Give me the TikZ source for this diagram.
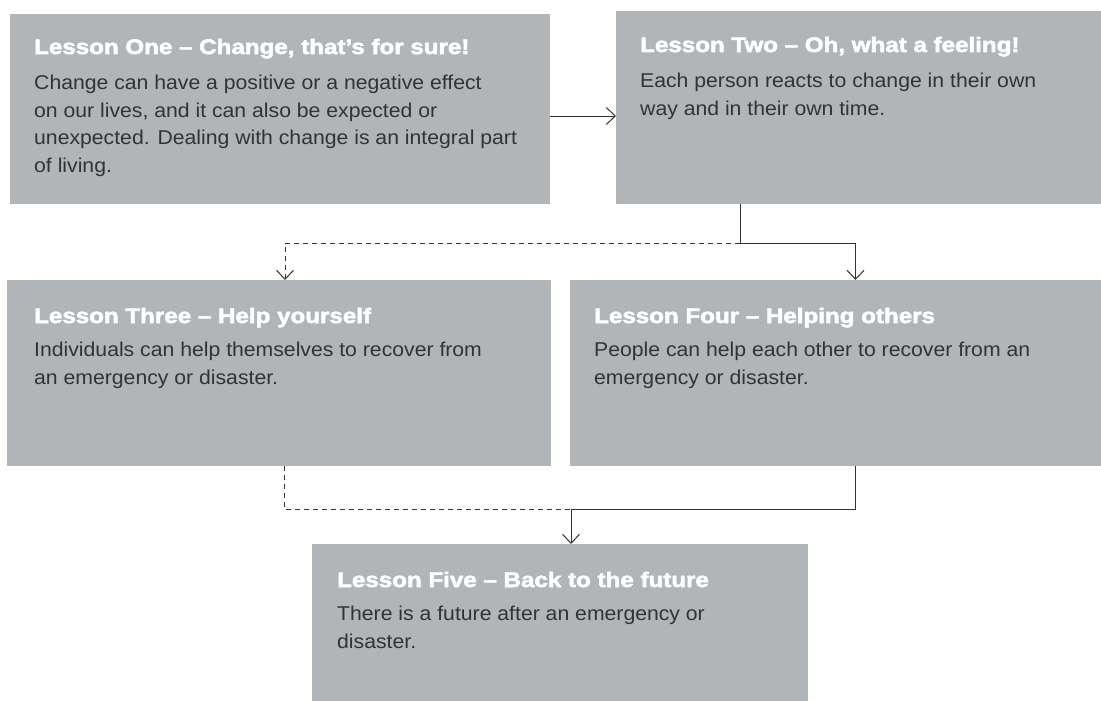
\documentclass[tikz,border=0pt]{standalone}
\usepackage{fontspec}
\setmainfont{Liberation Sans}
\newfontfamily\lessonhead[FakeStretch=1.15,FakeBold=2.5]{Liberation Sans Bold}
\newfontfamily\lessonbody[FakeStretch=1.06]{Liberation Sans}
\usetikzlibrary{arrows.meta,positioning}
\definecolor{boxgray}{HTML}{B1B5B8}
\definecolor{inkgray}{HTML}{333333}

\tikzset{
  lesson/.style   = {shape=rectangle, fill=boxgray, inner sep=0pt,
                     outer sep=0pt, anchor=north west},
  headline/.style = {font=\lessonhead\fontsize{21}{24}\selectfont,
                     text=white, inner sep=0pt, anchor=base west},
  blurb/.style    = {font=\lessonbody\fontsize{20}{27.5}\selectfont,
                     text=inkgray, align=left, inner sep=0pt,
                     anchor=north west},
  flow/.style     = {draw=inkgray, line width=1pt,
                     -{Straight Barb[length=9pt,width=17pt]}},
  maybe/.style    = {flow, dash pattern=on 5pt off 4pt}
}

\begin{document}
\begin{tikzpicture}[x=1pt, y=-1pt]
  \useasboundingbox (0,0) rectangle (1101,701);

  % the five lessons
  \node [lesson, minimum width=540pt, minimum height=190pt] (one)   at (10,14)  {};
  \node [lesson, minimum width=485pt, minimum height=193pt] (two)   at (616,11) {};
  \node [lesson, minimum width=544pt, minimum height=186pt] (three) at (7,280)  {};
  \node [lesson, minimum width=531pt, minimum height=186pt] (four)  at (570,280) {};
  \node [lesson, minimum width=496pt, minimum height=157pt] (five)  at (312,544) {};

  \node [headline] (onehead) at ([xshift=24pt,yshift=-40pt]one.north west)
    {Lesson One – Change, that’s for sure!};
  \node [blurb] (onetext) at ([xshift=24pt,yshift=-61pt]one.north west)
    {Change can have a positive or a negative effect\\
     on our lives, and it can also be expected or\\
     unexpected. Dealing with change is an integral part\\
     of living.};

  \node [headline] (twohead) at ([xshift=24pt,yshift=-41pt]two.north west)
    {Lesson Two – Oh, what a feeling!};
  \node [blurb] (twotext) at ([xshift=24pt,yshift=-62pt]two.north west)
    {Each person reacts to change in their own\\
     way and in their own time.};

  \node [headline] (threehead) at ([xshift=27pt,yshift=-43pt]three.north west)
    {Lesson Three – Help yourself};
  \node [blurb] (threetext) at ([xshift=27pt,yshift=-62pt]three.north west)
    {Individuals can help themselves to recover from\\
     an emergency or disaster.};

  \node [headline] (fourhead) at ([xshift=24pt,yshift=-43pt]four.north west)
    {Lesson Four – Helping others};
  \node [blurb] (fourtext) at ([xshift=24pt,yshift=-62pt]four.north west)
    {People can help each other to recover from an\\
     emergency or disaster.};

  \node [headline] (fivehead) at ([xshift=25pt,yshift=-43pt]five.north west)
    {Lesson Five – Back to the future};
  \node [blurb] (fivetext) at ([xshift=25pt,yshift=-62pt]five.north west)
    {There is a future after an emergency or\\
     disaster.};

  % connectors
  \coordinate (onetwo) at ([yshift=-7pt]one.east);
  \coordinate (split)  at (740,243);
  \coordinate (merge)  at (571,509);

  \draw [flow] (onetwo) -- (onetwo -| two.west);
  \draw [flow] (split |- two.south) -- (split) -| ([xshift=20pt]four.north);
  \draw [maybe] (split) -| ([xshift=6pt]three.north);
  \draw [maybe, -] ([xshift=5pt]three.south) |- (merge);
  \draw [flow] ([xshift=20pt]four.south) |- (merge) -- (merge |- five.north);
\end{tikzpicture}
\end{document}
